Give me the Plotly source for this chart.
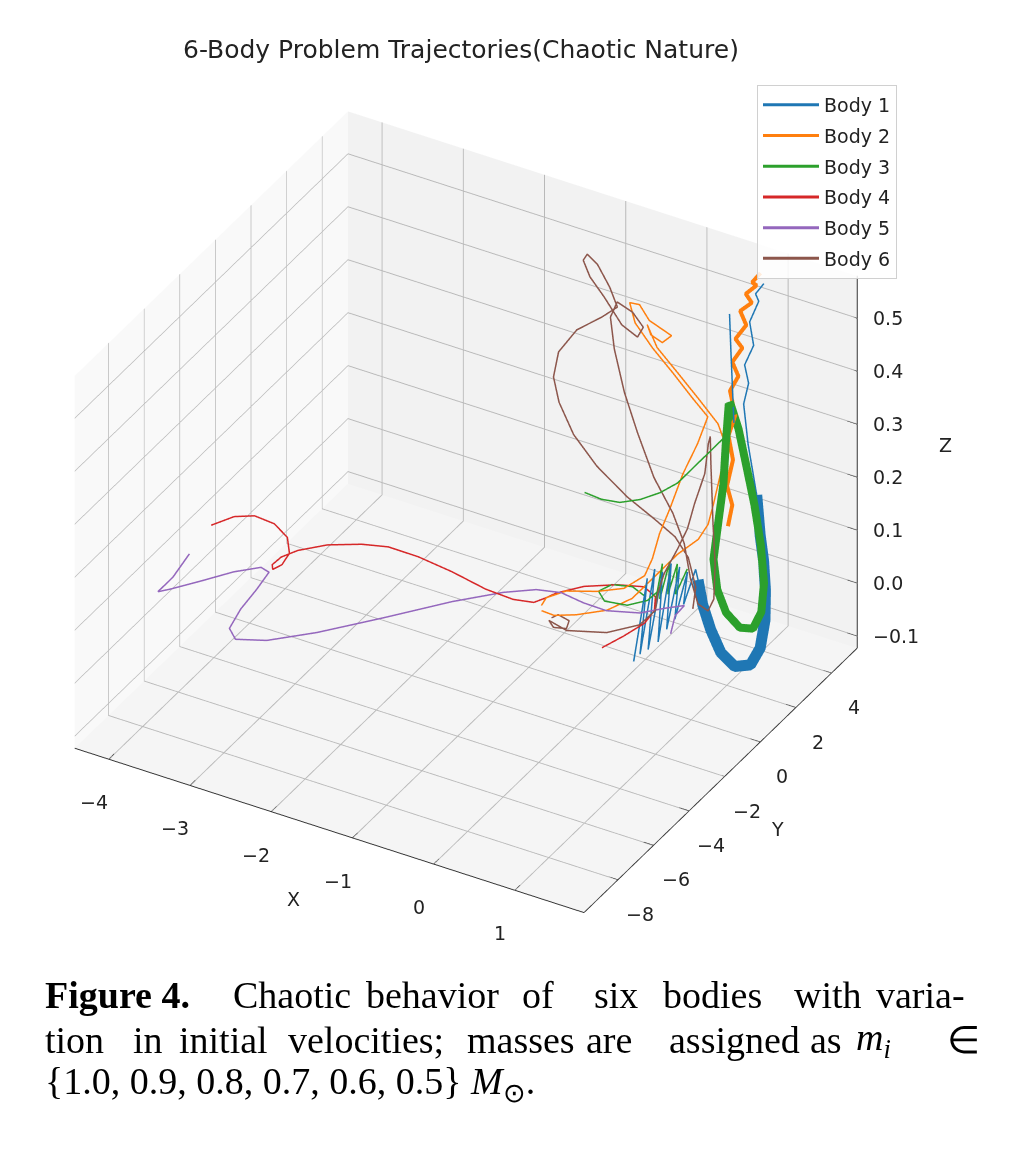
import plotly.graph_objects as go

# colours (matplotlib tab10)
COLORS = ["#1f77b4", "#ff7f0e", "#2ca02c", "#d62728", "#9467bd", "#8c564b"]
NAMES = ["Body 1", "Body 2", "Body 3", "Body 4", "Body 5", "Body 6"]

# ---- Body 1: spikes near the floor, the wide U band, then up the right column
b1_spike_x = [0.13, 0.17, 0.12, 0.15, 0.15, 0.25, 0.22, 0.30, 0.28, 0.36, 0.31, 0.38, 0.35, 0.38]
b1_spike_y = [0.74, 1.32, 1.14, 1.83, 1.46, 1.81, 1.70, 2.07, 1.91, 2.27, 2.23, 2.62, 2.54, 3.08]
b1_spike_z = [-0.08, 0.06, -0.08, 0.06, -0.08, 0.06, -0.07, 0.07, -0.05, 0.06, -0.04, 0.04, -0.02, 0.03]

b1_band_x = [0.35, 0.43, 0.59, 0.80, 1.01, 1.14, 1.17, 1.10, 1.02, 0.92, 0.85, 0.79, 0.78, 0.66]
b1_band_y = [3.35, 3.25, 2.97, 2.58, 2.40, 2.69, 3.10, 3.69, 4.08, 4.43, 4.56, 4.64, 4.20, 4.50]
b1_band_z = [0.00, -0.04, -0.07, -0.09, -0.10, -0.10, -0.08, -0.05, -0.01, 0.03, 0.07, 0.14, 0.25, 0.31]

b1_top_x = [0.71, 0.65, 0.75, 0.69, 0.78, 0.73, 0.81]
b1_top_y = [4.55, 4.60, 4.65, 4.70, 4.80, 4.85, 4.95]
b1_top_z = [0.35, 0.38, 0.42, 0.46, 0.50, 0.51, 0.53]

b1_thin_x = [0.53, 0.57, 0.61, 0.65]
b1_thin_y = [4.30, 4.20, 4.10, 4.00]
b1_thin_z = [0.48, 0.41, 0.35, 0.29]

# ---- Body 2: loops near the floor, the knot at the top, and the bright column
b2_loop_x = [-0.75, -0.78, -0.66, -0.37, -0.10, 0.07, 0.08, 0.06, 0.07, 0.11, 0.31, 0.35,
             0.19, -0.03, -0.26, -0.46, -0.50, -0.39, -0.25, -0.09, 0.00, -0.07,
             -0.20, -0.28, -0.12, 0.11, 0.29, 0.46, 0.52, 0.51, 0.48, 0.47,
             0.37, 0.22, 0.12, 0.02, -0.15, -0.39, -0.59, -0.75]
b2_loop_y = [-0.43, -0.02, 0.55, 0.97, 1.25, 1.63, 2.02, 2.51, 3.04, 3.59, 3.51, 3.90,
             3.79, 3.69, 3.58, 3.51, 3.39, 3.44, 3.35, 3.37, 3.46, 3.26,
             3.21, 3.37, 3.20, 3.31, 3.64, 3.97, 4.11, 3.88, 3.62, 3.37,
             3.27, 2.80, 2.12, 1.16, 0.52, -0.11, -0.45, -0.42]
b2_loop_z = [0.02, 0.02, 0.02, 0.02, 0.03, 0.05, 0.07, 0.10, 0.13, 0.18, 0.25, 0.29,
             0.32, 0.36, 0.40, 0.44, 0.48, 0.48, 0.46, 0.45, 0.44, 0.43,
             0.44, 0.45, 0.42, 0.38, 0.33, 0.28, 0.24, 0.19, 0.14, 0.11,
             0.08, 0.06, 0.04, 0.02, 0.01, 0.01, 0.01, 0.01]

b2_column_x = [0.62, 0.66, 0.58, 0.64, 0.57, 0.64, 0.56, 0.65, 0.56, 0.67, 0.57, 0.69, 0.60, 0.73, 0.64, 0.76, 0.69, 0.78]
b2_column_y = [3.80, 3.86, 3.93, 3.99, 4.06, 4.12, 4.19, 4.25, 4.32, 4.38, 4.45, 4.51, 4.58, 4.64, 4.71, 4.77, 4.84, 4.90]
b2_column_z = [0.10, 0.14, 0.17, 0.22, 0.26, 0.30, 0.34, 0.37, 0.39, 0.42, 0.43, 0.46, 0.48, 0.50, 0.51, 0.53, 0.53, 0.55]

# ---- Body 3: the free arc, the V band and the small loops near the floor
b3_arc_x = [-0.52, -0.30, -0.10, 0.11, 0.28, 0.40, 0.50, 0.60, 0.70]
b3_arc_y = [0.95, 0.89, 1.01, 1.19, 1.54, 1.98, 2.49, 3.06, 3.46]
b3_arc_z = [0.20, 0.20, 0.20, 0.21, 0.22, 0.23, 0.25, 0.27, 0.29]

b3_band_x = [0.62, 0.62, 0.63, 0.61, 0.60, 0.67, 0.77, 0.94, 1.07, 1.09, 1.04, 0.95, 0.86, 0.75, 0.65, 0.61]
b3_band_y = [3.85, 3.68, 3.50, 3.29, 3.08, 2.97, 3.01, 3.01, 3.15, 3.53, 3.91, 4.14, 4.19, 4.22, 4.26, 3.95]
b3_band_z = [0.33, 0.26, 0.19, 0.12, 0.06, 0.01, -0.03, -0.05, -0.05, -0.03, 0.01, 0.07, 0.14, 0.21, 0.27, 0.33]

b3_low_x = [0.10, -0.09, -0.30, -0.36, -0.21, 0.04, 0.18, 0.19, 0.18, 0.17, 0.18, 0.22, 0.21, 0.31, 0.28, 0.40]
b3_low_y = [1.45, 1.67, 1.47, 1.00, 0.65, 0.79, 1.28, 1.80, 1.71, 2.17, 1.98, 2.35, 2.30, 2.37, 2.41, 2.52]
b3_low_z = [0.02, 0.02, 0.02, 0.02, 0.02, 0.02, 0.02, 0.02, 0.00, 0.06, 0.00, 0.06, 0.00, 0.06, 0.00, 0.05]

# ---- Body 4
b4_x = [-4.06, -3.93, -3.75, -3.49, -3.24, -3.07, -3.03, -3.07, -3.12, -3.11, -3.07, -2.90, -2.64, -2.42, -2.10,
        -1.69, -1.32, -1.02, -0.85, -0.78, -0.73, -0.54, -0.25, 0.02, 0.17, 0.24, 0.27, 0.15, 0.01]
b4_y = [-3.88, -3.18, -2.86, -2.93, -3.34, -4.00, -4.60, -4.94, -4.74, -4.28, -3.53, -2.64, -1.90, -1.41, -1.19,
        -1.14, -0.96, -0.79, -0.40, -0.02, 0.33, 1.00, 1.54, 1.83, 1.78, 1.40, 0.71, 0.10, -0.49]
b4_z = [0.12, 0.12, 0.12, 0.12, 0.12, 0.12, 0.12, 0.12, 0.12, 0.12, 0.11, 0.10, 0.09, 0.08, 0.07,
        0.06, 0.04, 0.03, 0.02, 0.02, 0.02, 0.02, 0.02, 0.02, 0.01, 0.00, 0.00, -0.01, -0.02]

# ---- Body 5
b5_x = [-4.19, -4.12, -4.12, -4.03, -3.83, -3.61, -3.40, -3.28, -3.23, -3.19, -3.11, -2.95, -2.65,
        -2.36, -1.93, -1.51, -1.18, -0.90, -0.64, -0.39, -0.10, 0.23, 0.41, 0.57, 0.48, 0.46]
b5_y = [-4.51, -5.76, -6.60, -6.31, -5.55, -4.67, -4.09, -4.19, -5.12, -6.19, -7.19, -7.58, -7.19,
        -5.67, -3.84, -1.97, -0.63, -0.04, 0.18, 0.28, 0.26, 0.63, 1.17, 1.58, 1.47, 1.31]
b5_z = [0.08, 0.08, 0.08, 0.08, 0.08, 0.08, 0.08, 0.08, 0.08, 0.08, 0.08, 0.08, 0.08,
        0.06, 0.05, 0.04, 0.03, 0.03, 0.03, 0.02, 0.02, 0.02, 0.02, 0.02, 0.00, -0.03]

# ---- Body 6
b6_x = [-0.64, -0.61, -0.45, -0.40, -0.53, -0.64, -0.38, 0.06, 0.29, 0.35,
        0.26, 0.28, 0.37, 0.42, 0.45, 0.46, 0.46, 0.51, 0.62, 0.71,
        0.76, 0.83, 0.79, 0.68, 0.57, 0.48, 0.34, 0.18, -0.05, -0.25,
        -0.45, -0.54, -0.52, -0.33, -0.19, -0.20, -0.36, -0.64, -0.86, -0.98,
        -1.00, -0.86, -0.63, -0.52, -0.67, -0.88, -0.99, -1.00, -0.96, -0.82,
        -0.66, -0.39, -0.17, 0.03, 0.25, 0.50, 0.63]
b6_y = [-0.36, -0.13, -0.24, -0.62, -0.75, -0.51, -0.70, -0.46, 0.34, 0.96,
        1.49, 1.77, 2.12, 2.44, 2.70, 3.23, 3.43, 3.31, 2.84, 2.55,
        2.44, 2.05, 1.91, 1.84, 1.92, 1.98, 1.98, 1.65, 1.77, 1.95,
        2.30, 2.49, 2.78, 2.78, 2.74, 2.46, 2.31, 2.59, 2.80, 2.97,
        3.29, 3.22, 2.86, 2.79, 2.60, 2.15, 1.63, 1.39, 1.52, 1.70,
        2.27, 2.74, 3.30, 3.52, 3.26, 2.54, 1.78]
b6_z = [0.00, 0.00, 0.00, 0.00, 0.00, 0.00, 0.00, 0.01, 0.01, 0.02,
        0.03, 0.06, 0.10, 0.13, 0.17, 0.21, 0.26, 0.28, 0.25, 0.15,
        0.08, 0.03, 0.01, 0.02, 0.06, 0.12, 0.17, 0.24, 0.31, 0.37,
        0.43, 0.48, 0.50, 0.49, 0.47, 0.46, 0.48, 0.51, 0.53, 0.55,
        0.55, 0.54, 0.52, 0.49, 0.47, 0.45, 0.42, 0.38, 0.33, 0.27,
        0.20, 0.14, 0.09, 0.06, 0.04, 0.02, 0.01]

X_TICKS = [-4, -3, -2, -1, 0, 1]
Y_TICKS = [-8, -6, -4, -2, 0, 2, 4]
Z_TICKS = [-0.1, 0.0, 0.1, 0.2, 0.3, 0.4, 0.5]
X_RANGE = [-4.42, 1.85]
Y_RANGE = [-9.9, 5.45]
Z_RANGE = [-0.123, 0.58]

W, H = 1018, 1161
OFF = 8  # the page body adds an 8px margin


def px_x(p):
    return (p - OFF) / W


def px_y(p):
    return 1 - (p - OFF) / H


def joined(*parts):
    # segments of one body separated by None so the line breaks
    out = []
    for i, p in enumerate(parts):
        if i:
            out.append(None)
        out.extend(p)
    return out


def minus(v, fmt):
    return format(v, fmt).replace("-", "\u2212")


bodies = [
    (joined(b1_spike_x + b1_band_x + b1_top_x, b1_thin_x),
     joined(b1_spike_y + b1_band_y + b1_top_y, b1_thin_y),
     joined(b1_spike_z + b1_band_z + b1_top_z, b1_thin_z)),
    (joined(b2_loop_x, b2_column_x), joined(b2_loop_y, b2_column_y), joined(b2_loop_z, b2_column_z)),
    (joined(b3_arc_x + b3_band_x, b3_low_x), joined(b3_arc_y + b3_band_y, b3_low_y),
     joined(b3_arc_z + b3_band_z, b3_low_z)),
    (b4_x, b4_y, b4_z),
    (b5_x, b5_y, b5_z),
    (b6_x, b6_y, b6_z),
]

fig = go.Figure()

for i, (xs, ys, zs) in enumerate(bodies):
    fig.add_trace(go.Scatter3d(
        x=xs, y=ys, z=zs, mode="lines", name=NAMES[i], legendgroup=NAMES[i],
        line=dict(color=COLORS[i], width=3), connectgaps=False,
    ))

# the densely oscillating parts read as thick bands
bands = [(0, b1_band_x[:12], b1_band_y[:12], b1_band_z[:12], 22),
         (1, b2_column_x, b2_column_y, b2_column_z, 8),
         (2, b3_band_x, b3_band_y, b3_band_z, 16)]
for i, xs, ys, zs, w in bands:
    fig.add_trace(go.Scatter3d(
        x=xs, y=ys, z=zs, mode="lines", legendgroup=NAMES[i], showlegend=False,
        line=dict(color=COLORS[i], width=w), hoverinfo="skip",
    ))

# axis decorations in matplotlib's places: z axis on the right edge, short ticks
x0, x1 = X_RANGE
y0, y1 = Y_RANGE
z0, z1 = Z_RANGE
ax_x, ax_y, ax_z = [x1, x1], [y1, y1], [z0, z1]
for t in Z_TICKS:
    ax_x += [None, x1 - 0.12, x1]
    ax_y += [None, y1, y1]
    ax_z += [None, t, t]
for t in X_TICKS:
    ax_x += [None, t, t]
    ax_y += [None, y0, y0 + 0.3]
    ax_z += [None, z0, z0]
for t in Y_TICKS:
    ax_x += [None, x1, x1 - 0.12]
    ax_y += [None, t, t]
    ax_z += [None, z0, z0]
fig.add_trace(go.Scatter3d(
    x=ax_x, y=ax_y, z=ax_z, mode="lines", line=dict(color="#333333", width=2),
    showlegend=False, hoverinfo="skip", connectgaps=False,
))

tick_font = dict(family="DejaVu Sans", size=19, color="#222222")

# tick labels and axis titles placed the way matplotlib offsets them
labels = []
for t in X_TICKS:
    labels.append(dict(x=t, y=y0, z=z0, text=minus(t, "d"), showarrow=False,
                       xshift=-15, yshift=-43, font=tick_font))
for t in Y_TICKS:
    labels.append(dict(x=x1, y=t, z=z0, text=minus(t, "d"), showarrow=False,
                       xshift=22, yshift=-34, font=tick_font))
for t in Z_TICKS:
    labels.append(dict(x=x1, y=y1, z=t, text=minus(t, ".1f"), showarrow=False,
                       xanchor="left", xshift=14, font=tick_font))
labels.append(dict(x=-1.285, y=y0, z=z0, text="X", showarrow=False,
                   xshift=-36, yshift=-69, font=tick_font))
labels.append(dict(x=x1, y=-2.225, z=z0, text="Y", showarrow=False,
                   xshift=57, yshift=-49, font=tick_font))
labels.append(dict(x=x1, y=y1, z=0.26, text="Z", showarrow=False, xshift=88, font=tick_font))

axis_style = dict(
    showbackground=True, title=dict(text=""),
    gridcolor="rgb(185,185,185)", gridwidth=2, zeroline=False,
    showline=True, linecolor="#333333", linewidth=2,
    ticks="", showticklabels=False, showspikes=False,
)

fig.update_layout(
    width=W, height=H,
    margin=dict(l=0, r=0, t=0, b=0),
    paper_bgcolor="white",
    font=dict(family="DejaVu Sans", color="#222222"),
    scene=dict(
        domain=dict(x=[0.001, 0.899], y=[0.167, 0.965]),
        xaxis=dict(range=X_RANGE, tickvals=X_TICKS, backgroundcolor="rgb(249,249,249)", **axis_style),
        yaxis=dict(range=Y_RANGE, tickvals=Y_TICKS, backgroundcolor="rgb(242,242,242)", **axis_style),
        zaxis=dict(title=dict(text=""), range=Z_RANGE, tickvals=Z_TICKS, backgroundcolor="rgb(245,245,245)",
                   showbackground=True, gridcolor="rgb(185,185,185)", gridwidth=2, zeroline=False,
                   showline=False, ticks="", showticklabels=False, showspikes=False),
        aspectmode="manual", aspectratio=dict(x=1.27, y=1.18, z=0.97),
        camera=dict(eye=dict(x=0.589, y=-1.020, z=0.794), center=dict(x=0, y=0, z=0), up=dict(x=0, y=0, z=1),
                    projection=dict(type="orthographic")),
        annotations=labels,
    ),
    legend=dict(
        x=px_x(757), y=px_y(85), xanchor="left", yanchor="top",
        bgcolor="rgba(255,255,255,0.85)", bordercolor="#d0d0d0", borderwidth=1,
        font=dict(family="DejaVu Sans", size=19, color="#222222"), tracegroupgap=3, itemwidth=56,
    ),
)

fig.add_annotation(
    x=px_x(461), y=px_y(50), xref="paper", yref="paper", yanchor="middle", showarrow=False,
    text="6-Body Problem Trajectories(Chaotic Nature)",
    font=dict(family="DejaVu Sans", size=25, color="#222222"),
)

# caption, word by word to keep the justified spacing
caption_font = dict(family="Liberation Serif", size=38, color="black")
caption_words = [
    (43, 995, "<b>Figure 4.</b>"), (231, 995, "Chaotic"), (364, 995, "behavior"), (520, 995, "of"),
    (592, 995, "six"), (661, 995, "bodies"), (792, 995, "with"), (874, 995, "varia-"),
    (43, 1040, "tion"), (131, 1040, "in"), (177, 1040, "initial"), (286, 1040, "velocities;"),
    (465, 1040, "masses"), (584, 1040, "are"), (667, 1040, "assigned"), (808, 1040, "as"),
    (854, 1040, "<i>m<sub>i</sub></i>"), (945, 1040, "∈"),
    (43, 1084, "{1.0, 0.9, 0.8, 0.7, 0.6, 0.5} <i>M</i><sub>⊙</sub>."),
]
for px, py, word in caption_words:
    fig.add_annotation(
        x=px_x(px), y=px_y(py), xref="paper", yref="paper", xanchor="left", yanchor="middle",
        showarrow=False, text=word, font=caption_font,
    )

fig.write_html("out.html")
